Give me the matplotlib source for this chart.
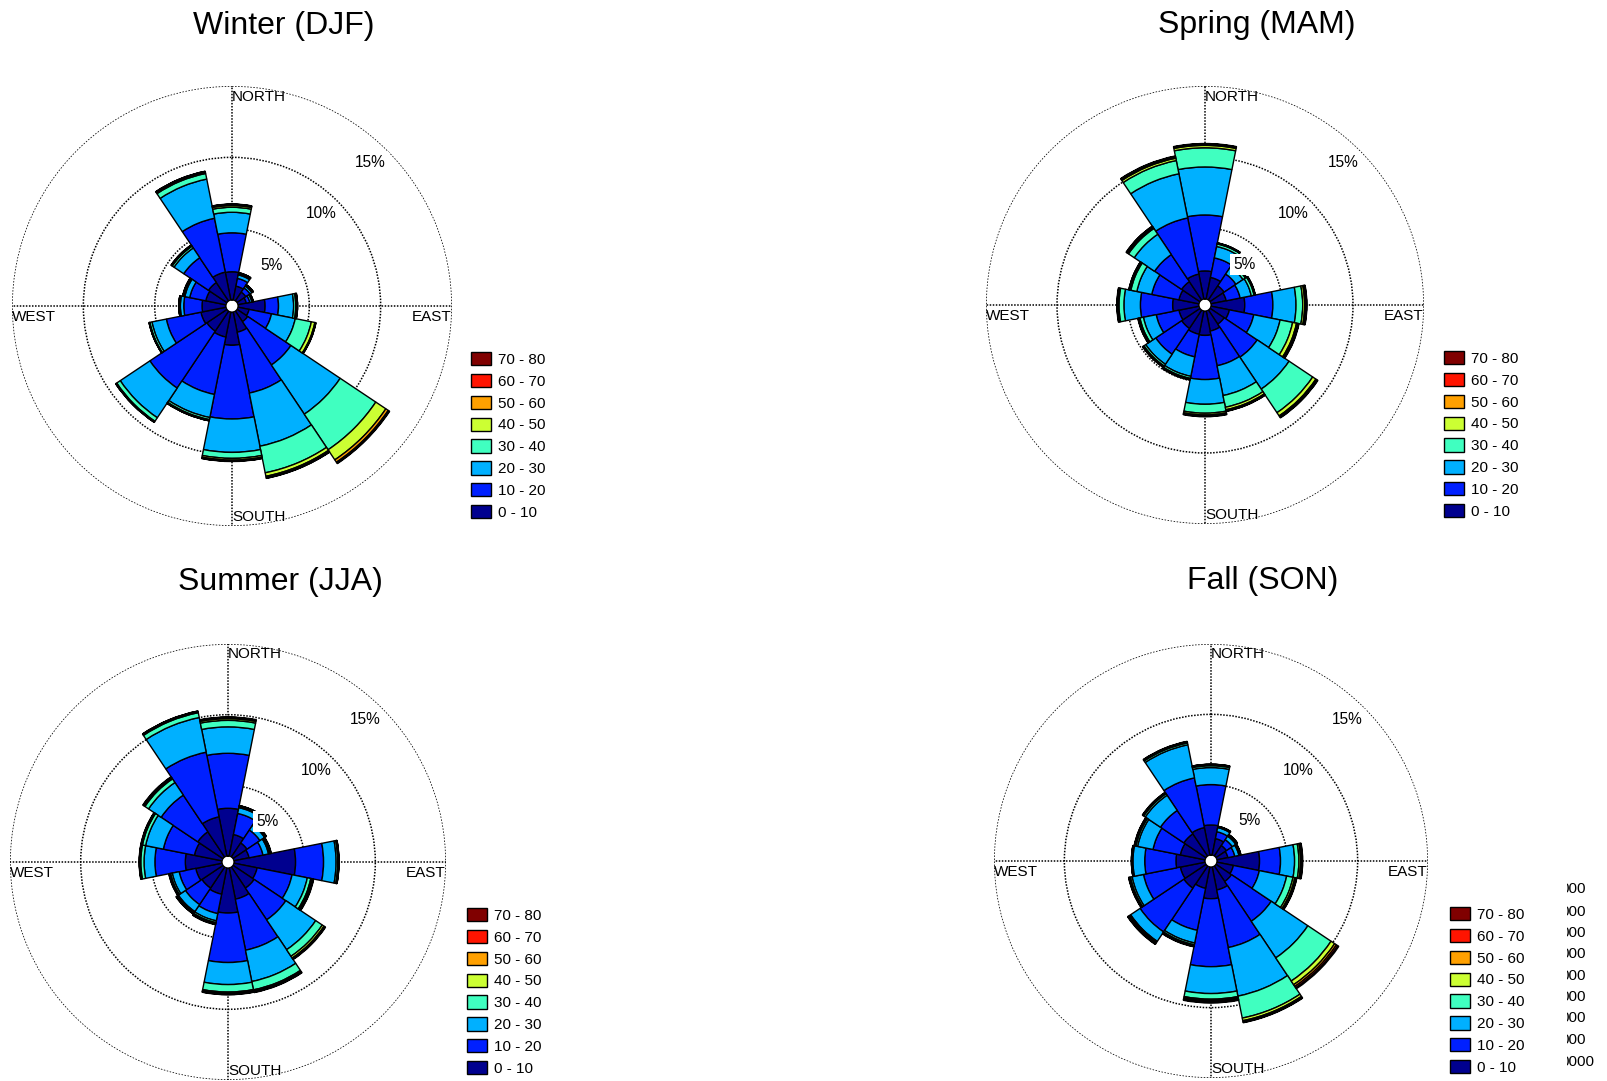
import numpy as np
import matplotlib
matplotlib.use('Agg')
import matplotlib.pyplot as plt
from matplotlib.patches import Patch
from matplotlib.transforms import Bbox, TransformedBbox

plt.rcParams['font.family'] = ['Liberation Sans', 'DejaVu Sans']

directions = ['N', 'NNE', 'NE', 'ENE', 'E', 'ESE', 'SE', 'SSE',
              'S', 'SSW', 'SW', 'WSW', 'W', 'WNW', 'NW', 'NNW']
speed_bins = ['0 - 10', '10 - 20', '20 - 30', '30 - 40',
              '40 - 50', '50 - 60', '60 - 70', '70 - 80']
bin_colors = ['#00008f', '#0020ff', '#00b0ff', '#40ffc0',
              '#ccff33', '#ffa000', '#ff1400', '#800000']
rings = [5, 10, 15]

# frequency (%) : one row per direction (N, NNE, ... NNW), one column per speed bin
winter = [
    [1.98, 2.73, 1.44, 0.35, 0.12, 0.06, 0.03, 0.02],
    [1.00, 0.55, 0.25, 0.08, 0.04, 0.02, 0.01, 0.01],
    [0.75, 0.35, 0.16, 0.06, 0.03, 0.01, 0.01, 0.01],
    [0.60, 0.25, 0.15, 0.05, 0.03, 0.01, 0.01, 0.00],
    [1.90, 0.94, 1.06, 0.15, 0.07, 0.03, 0.02, 0.01],
    [0.80, 1.60, 1.70, 1.15, 0.25, 0.05, 0.02, 0.01],
    [0.90, 3.65, 4.15, 3.00, 0.85, 0.20, 0.08, 0.04],
    [1.45, 4.35, 3.80, 1.90, 0.25, 0.10, 0.03, 0.02],
    [2.33, 5.17, 2.34, 0.42, 0.12, 0.05, 0.03, 0.02],
    [1.80, 4.10, 1.65, 0.15, 0.05, 0.02, 0.01, 0.01],
    [1.70, 4.80, 2.50, 0.30, 0.05, 0.02, 0.01, 0.01],
    [1.80, 2.47, 1.03, 0.15, 0.03, 0.02, 0.00, 0.01],
    [1.68, 1.28, 0.24, 0.07, 0.02, 0.01, 0.00, 0.00],
    [1.45, 1.15, 0.35, 0.10, 0.03, 0.01, 0.01, 0.00],
    [1.56, 2.09, 0.82, 0.15, 0.05, 0.03, 0.01, 0.01],
    [2.00, 3.85, 2.80, 0.40, 0.10, 0.03, 0.02, 0.01],
]

spring = [
    [1.98, 3.94, 3.38, 1.35, 0.17, 0.06, 0.04, 0.03],
    [1.56, 1.40, 0.82, 0.18, 0.04, 0.02, 0.01, 0.01],
    [1.20, 1.00, 0.60, 0.20, 0.05, 0.02, 0.01, 0.01],
    [1.10, 1.00, 0.80, 0.20, 0.05, 0.02, 0.01, 0.01],
    [2.38, 1.98, 1.63, 0.47, 0.14, 0.08, 0.05, 0.03],
    [1.33, 1.75, 1.89, 0.90, 0.28, 0.10, 0.05, 0.03],
    [1.20, 2.80, 2.70, 2.00, 0.27, 0.09, 0.05, 0.03],
    [1.45, 2.49, 2.14, 0.84, 0.18, 0.06, 0.04, 0.02],
    [1.72, 3.11, 1.74, 0.63, 0.12, 0.06, 0.04, 0.03],
    [1.68, 1.62, 1.40, 0.15, 0.05, 0.03, 0.02, 0.01],
    [1.56, 2.19, 0.85, 0.15, 0.05, 0.03, 0.02, 0.01],
    [1.45, 1.63, 0.92, 0.25, 0.07, 0.04, 0.02, 0.02],
    [1.86, 2.27, 1.16, 0.35, 0.06, 0.04, 0.03, 0.02],
    [1.45, 1.95, 1.07, 0.43, 0.08, 0.04, 0.02, 0.01],
    [1.56, 2.29, 1.72, 0.49, 0.09, 0.05, 0.04, 0.02],
    [1.80, 4.03, 3.17, 0.95, 0.17, 0.08, 0.05, 0.03],
]

summer = [
    [3.38, 3.89, 1.87, 0.46, 0.12, 0.06, 0.03, 0.03],
    [1.56, 1.52, 0.42, 0.10, 0.02, 0.01, 0.01, 0.01],
    [1.20, 1.10, 0.40, 0.08, 0.03, 0.02, 0.01, 0.01],
    [1.10, 1.00, 0.40, 0.10, 0.04, 0.02, 0.02, 0.02],
    [4.36, 1.98, 0.89, 0.12, 0.04, 0.02, 0.02, 0.01],
    [1.68, 2.52, 1.10, 0.25, 0.10, 0.05, 0.03, 0.03],
    [1.80, 2.70, 2.54, 0.56, 0.15, 0.05, 0.04, 0.04],
    [2.26, 3.68, 2.26, 0.60, 0.10, 0.04, 0.03, 0.03],
    [3.19, 3.50, 1.56, 0.53, 0.10, 0.04, 0.03, 0.02],
    [1.90, 1.40, 0.52, 0.13, 0.05, 0.04, 0.03, 0.03],
    [1.80, 1.40, 0.60, 0.10, 0.04, 0.03, 0.02, 0.01],
    [1.90, 1.20, 0.50, 0.12, 0.05, 0.03, 0.03, 0.02],
    [2.60, 2.15, 0.77, 0.23, 0.05, 0.03, 0.02, 0.02],
    [2.00, 2.24, 1.28, 0.23, 0.05, 0.03, 0.02, 0.02],
    [2.15, 3.12, 1.07, 0.31, 0.08, 0.04, 0.03, 0.03],
    [2.84, 4.66, 2.50, 0.35, 0.06, 0.03, 0.02, 0.01],
]

fall = [
    [2.14, 2.87, 1.21, 0.13, 0.05, 0.03, 0.02, 0.01],
    [1.20, 0.50, 0.30, 0.05, 0.02, 0.01, 0.01, 0.01],
    [0.90, 0.50, 0.30, 0.07, 0.03, 0.02, 0.02, 0.01],
    [0.80, 0.50, 0.30, 0.07, 0.03, 0.02, 0.02, 0.01],
    [3.03, 1.49, 1.00, 0.31, 0.12, 0.07, 0.05, 0.03],
    [1.20, 1.88, 1.98, 0.46, 0.13, 0.07, 0.05, 0.03],
    [1.33, 3.40, 3.13, 1.98, 0.31, 0.15, 0.12, 0.08],
    [1.68, 4.17, 3.52, 1.59, 0.19, 0.07, 0.05, 0.03],
    [2.26, 4.83, 1.91, 0.40, 0.10, 0.07, 0.06, 0.04],
    [1.56, 3.04, 0.92, 0.13, 0.05, 0.04, 0.03, 0.03],
    [1.90, 3.74, 0.81, 0.10, 0.05, 0.05, 0.03, 0.03],
    [1.80, 2.67, 0.83, 0.12, 0.05, 0.03, 0.03, 0.02],
    [2.07, 2.22, 0.84, 0.05, 0.02, 0.02, 0.01, 0.01],
    [1.80, 1.98, 1.12, 0.12, 0.05, 0.03, 0.03, 0.02],
    [1.90, 2.00, 1.30, 0.13, 0.05, 0.03, 0.02, 0.02],
    [2.00, 3.60, 2.40, 0.13, 0.05, 0.03, 0.02, 0.02],
]

panels = [
    ('Winter (DJF)', winter, 232, 306, 220),
    ('Spring (MAM)', spring, 1205, 305, 219),
    ('Summer (JJA)', summer, 228, 862, 218),
    ('Fall (SON)', fall, 1211, 861, 217),
]

W, H = 1608, 1081
fig = plt.figure(figsize=(W / 100, H / 100), dpi=100)
dotted = (0, (1, 1))

for title, freq, cx, cy, R in panels:
    ax = fig.add_axes([(cx - R) / W, 1 - (cy + R) / H, 2 * R / W, 2 * R / H],
                      projection='polar')
    ax.set_theta_zero_location('N')
    ax.set_theta_direction(-1)
    ax.set_rorigin(-0.42)
    ax.set_ylim(0, 15)
    ax.set_axisbelow(True)

    freq = np.array(freq)
    theta = np.deg2rad(np.arange(len(directions)) * 22.5)
    bottom = np.zeros(len(directions))
    for k in range(len(speed_bins)):
        ax.bar(theta, freq[:, k], width=np.deg2rad(22.5), bottom=bottom,
               color=bin_colors[k], edgecolor='black', linewidth=1.0)
        bottom += freq[:, k]

    ax.set_yticks(rings)
    ax.set_yticklabels([])
    ax.set_xticks(np.deg2rad([0, 90, 180, 270]))
    ax.set_xticklabels([])
    ax.grid(True, color='black', linestyle=dotted, linewidth=1.1)
    ax.spines['polar'].set_visible(False)

    for r in rings:
        ax.text(np.deg2rad(44), r - 1.45, f'{r}%', ha='center', va='center',
                fontsize=11.2, zorder=5,
                bbox=dict(facecolor='white', edgecolor='none', pad=2))

    lab = dict(transform=ax.transAxes, fontsize=11, zorder=6)
    ax.text(0.5, 0.992, 'NORTH', ha='left', va='top', **lab)
    ax.text(0.5, 0.004, 'SOUTH', ha='left', va='bottom', **lab)
    ax.text(0.0, 0.49, 'WEST', ha='left', va='top', **lab)
    ax.text(1.0, 0.49, 'EAST', ha='right', va='top', **lab)

    ax.text(0.5 + 52 / (2 * R), 0.5 + 272 / (2 * R), title,
            transform=ax.transAxes, ha='center', va='baseline', fontsize=23)

    handles = [Patch(facecolor=c, edgecolor='black', linewidth=1.0)
               for c in bin_colors[::-1]]
    ax.legend(handles, speed_bins[::-1], loc='upper left',
              bbox_to_anchor=(0.5 + 239 / (2 * R), 0.5 - 46 / (2 * R)),
              bbox_transform=ax.transAxes, frameon=False, fontsize=11,
              handlelength=1.3, handleheight=0.95, handletextpad=0.45,
              labelspacing=0.46, borderpad=0, borderaxespad=0)

# clipped column of numbers at the right edge (cut off in the original)
clip = TransformedBbox(Bbox.from_extents(1567.5 / W, 0, 1, 1), fig.transFigure)
row_y = [889, 911.7, 932.7, 954, 976, 996.7, 1018, 1040, 1061.7]
for i, y in enumerate(row_y):
    s = '0000' if i == len(row_y) - 1 else '000'
    t = fig.text(1560.2 / W, 1 - y / H, s, ha='left', va='center', fontsize=11)
    t.set_clip_box(clip)
    t.set_clip_on(True)

fig.savefig('out.png', dpi=100, facecolor='white')
